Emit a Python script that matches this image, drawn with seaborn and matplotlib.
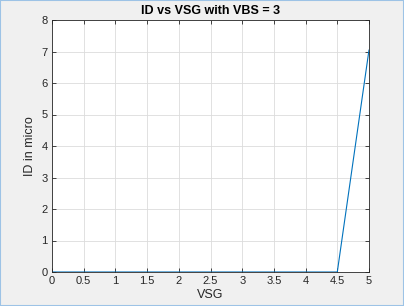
import matplotlib
matplotlib.use("Agg")
import matplotlib.pyplot as plt
import seaborn as sns
import pandas as pd
from matplotlib.patches import Rectangle

vsg = [0, 0.5, 1, 1.5, 2, 2.5, 3, 3.5, 4, 4.5, 5]
id_micro = [0, 0, 0, 0, 0, 0, 0, 0, 0, 0, 7.05]
xticks = [0, 0.5, 1, 1.5, 2, 2.5, 3, 3.5, 4, 4.5, 5]
xticklabels = ["0", "0.5", "1", "1.5", "2", "2.5", "3", "3.5", "4", "4.5", "5"]
yticks = [0, 1, 2, 3, 4, 5, 6, 7, 8]

sns.set_theme(style="white")
plt.rcParams['font.family'] = ['Liberation Sans', 'DejaVu Sans']

fig = plt.figure(figsize=(4.04, 3.06), dpi=100, facecolor="#f0f0f0")
ax = fig.add_axes([52/404, 1-272/306, (369-52)/404, (272-20)/306])
ax.set_facecolor("white")

df = pd.DataFrame({"VSG": vsg, "ID": id_micro})
sns.lineplot(data=df, x="VSG", y="ID", ax=ax, color="#0072BD", linewidth=0.8)

ax.set_xlim(0, 5)
ax.set_ylim(0, 8)
ax.set_xticks(xticks)
ax.set_xticklabels(xticklabels)
ax.set_yticks(yticks)
ax.grid(True, color="#dcdcdc", linewidth=0.6)
ax.set_axisbelow(True)
for s in ax.spines.values():
    s.set_color("#262626")
    s.set_linewidth(0.6)
ax.tick_params(direction="in", length=3, width=0.6, colors="#262626",
               labelsize=8, top=True, right=True, bottom=True, left=True, pad=3)
ax.set_xlabel("VSG", fontsize=9, color="#262626", labelpad=2)
ax.set_ylabel("ID in micro", fontsize=9, color="#262626", labelpad=4)
ax.set_title("ID vs VSG with VBS = 3", fontsize=9, fontweight="bold", color="black", pad=4)

fig.patches.append(Rectangle((0, 0), 1, 1, transform=fig.transFigure, fill=False,
                             edgecolor="#9dc3e6", linewidth=1.5))

fig.savefig("out.png", dpi=100, facecolor=fig.get_facecolor())
